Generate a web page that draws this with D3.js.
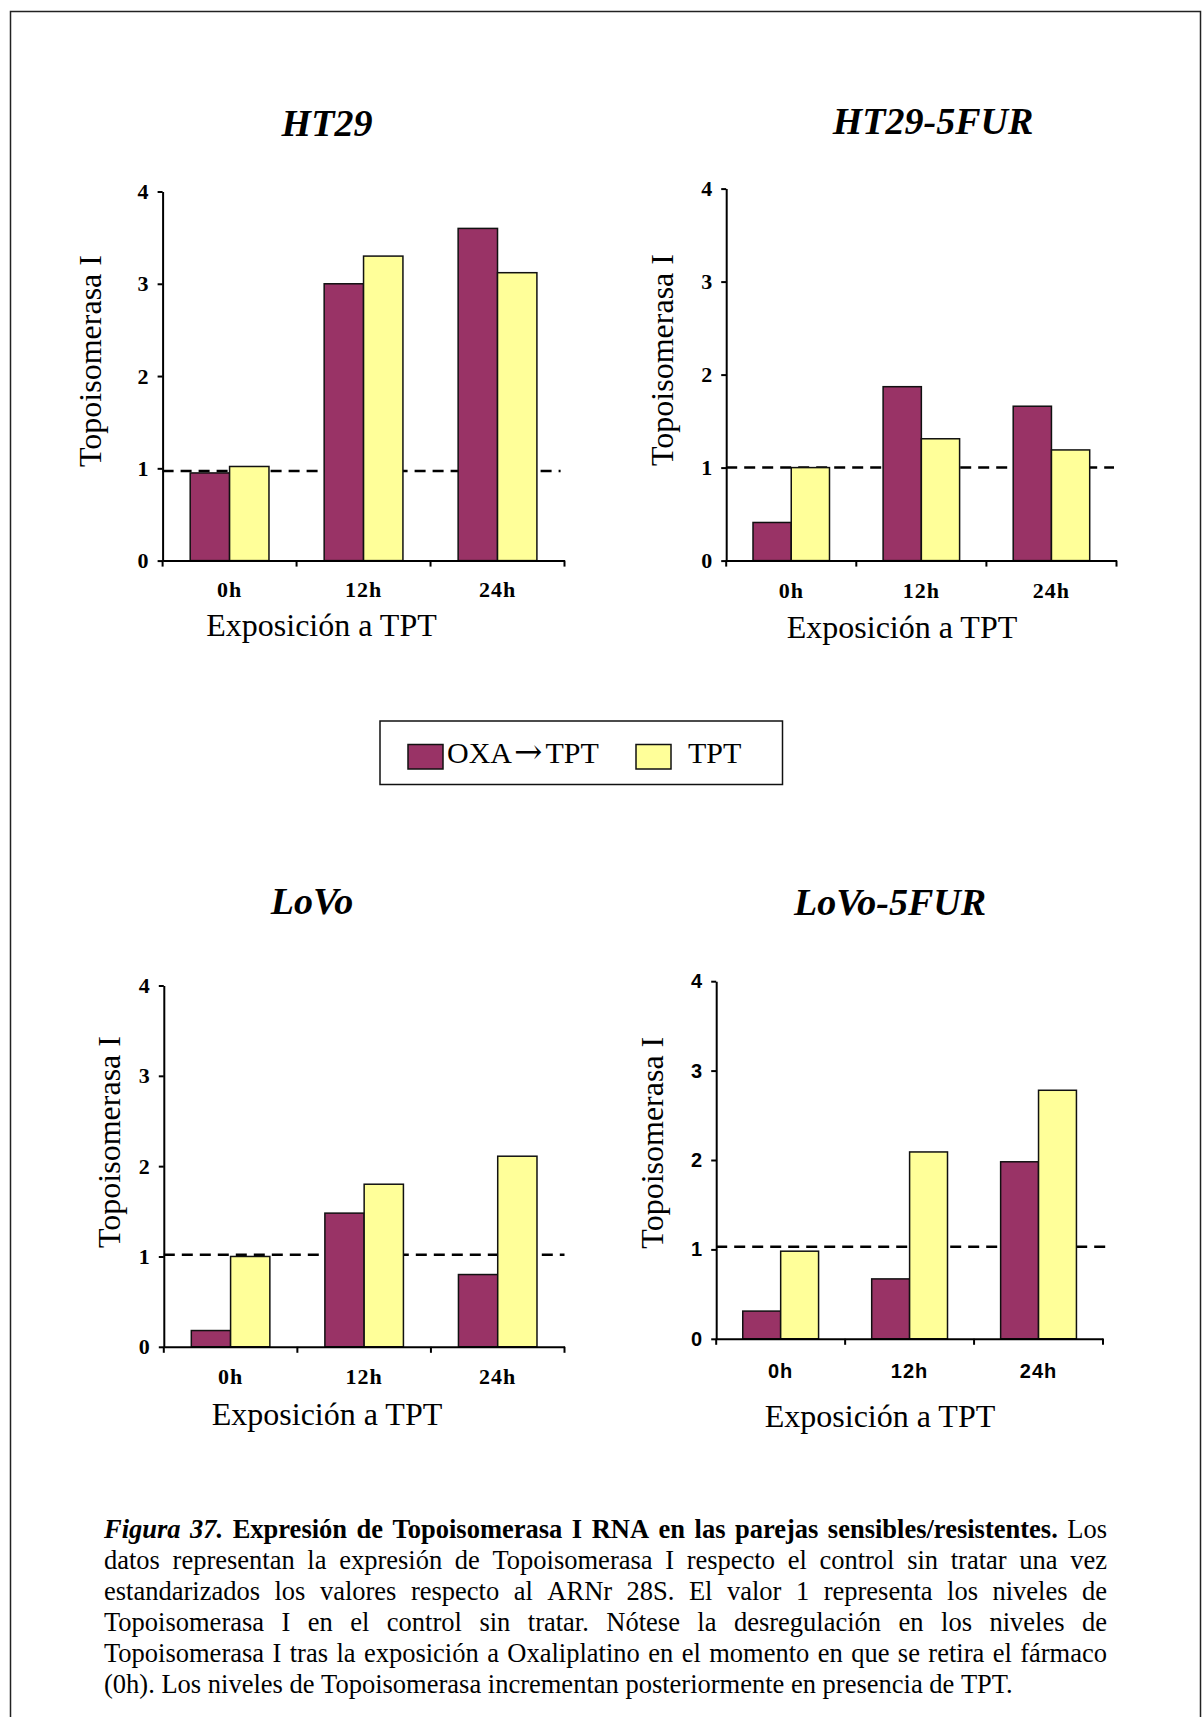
<!DOCTYPE html>
<html>
<head>
<meta charset="utf-8">
<script src="https://cdn.jsdelivr.net/npm/d3@7"></script>
<style>
  body { margin: 0; background: #fff; }
  svg { display: block; }
</style>
</head>
<body>
<div id="figura"></div>
<script>
// categorías y series
const categories = ['0h', '12h', '24h'];
const seriesNames = ['OXA→TPT', 'TPT'];
const yTicks = [0, 1, 2, 3, 4];
const panelTitles = ['HT29', 'HT29-5FUR', 'LoVo', 'LoVo-5FUR'];

// valores (Topoisomerasa I respecto al control)
const ht29Oxa = [0.95, 3.00, 3.60];
const ht29Tpt = [1.02, 3.30, 3.12];
const ht29FurOxa = [0.41, 1.87, 1.66];
const ht29FurTpt = [1.00, 1.31, 1.19];
const lovoOxa = [0.18, 1.48, 0.80];
const lovoTpt = [1.00, 1.80, 2.11];
const lovoFurOxa = [0.31, 0.67, 1.98];
const lovoFurTpt = [0.98, 2.09, 2.78];
// línea discontinua: nivel del control sin tratar
const controlLevels = [0.97, 1.00, 1.02, 1.03];

const colors = { 'OXA→TPT': '#993366', 'TPT': '#FFFF99' };
const SERIF = '"Liberation Serif", "Times New Roman", serif';
const SANS = '"Liberation Sans", Arial, sans-serif';

const W = 1203, H = 1717;
const svg = d3.select('#figura').append('svg')
  .attr('width', W).attr('height', H);

// marco
svg.append('rect')
  .attr('x', 10.5).attr('y', 11.5)
  .attr('width', 1190).attr('height', 1800)
  .attr('fill', 'none').attr('stroke', '#222').attr('stroke-width', 1.5);

// posición de cada panel en la página
const layout = [
  { x0: 162.6, x1: 564.5, y0: 560.6, y4: 191.5, dashEnd: 560.6, titleX: 327, titleY: 136,
    yLabX: 90, yLabY: 361, xTitleX: 321.5, xTitleY: 635.5, xLabY: 36.5, tickFont: SERIF, tickSize: 22 },
  { x0: 726.2, x1: 1116.5, y0: 560.6, y4: 188.6, dashEnd: 1114, titleX: 933, titleY: 134,
    yLabX: 662, yLabY: 360, xTitleX: 902, xTitleY: 637.5, xLabY: 37, tickFont: SERIF, tickSize: 22 },
  { x0: 163.8, x1: 564.5, y0: 1346.8, y4: 985.5, dashEnd: 564.5, titleX: 312, titleY: 913.6,
    yLabX: 109, yLabY: 1142, xTitleX: 327, xTitleY: 1424.5, xLabY: 37.5, tickFont: SERIF, tickSize: 22 },
  { x0: 716.2, x1: 1103, y0: 1338.8, y4: 981.2, dashEnd: 1110, titleX: 890, titleY: 915,
    yLabX: 652, yLabY: 1142.7, xTitleX: 880, xTitleY: 1427.3, xLabY: 39.5, tickFont: SANS, tickSize: 20 }
];
const panelData = [
  [ht29Oxa, ht29Tpt], [ht29FurOxa, ht29FurTpt], [lovoOxa, lovoTpt], [lovoFurOxa, lovoFurTpt]
];

panelTitles.forEach((title, i) => {
  const p = layout[i];
  const [oxa, tpt] = panelData[i];
  const g = svg.append('g');

  const x = d3.scaleBand().domain(categories).range([p.x0, p.x1]).padding(0);
  const bw = x.bandwidth();
  const xs = d3.scaleBand().domain(seriesNames).range([bw * 0.206, bw * 0.794]).padding(0);
  const y = d3.scaleLinear().domain([0, 4]).range([p.y0, p.y4]);

  // título del panel
  g.append('text')
    .attr('x', p.titleX).attr('y', p.titleY)
    .attr('text-anchor', 'middle')
    .style('font-family', SERIF).style('font-size', '38px')
    .style('font-weight', 'bold').style('font-style', 'italic')
    .text(title);

  // línea discontinua del control (detrás de las barras)
  g.append('line')
    .attr('x1', p.x0).attr('x2', p.dashEnd)
    .attr('y1', y(controlLevels[i])).attr('y2', y(controlLevels[i]))
    .attr('stroke', '#000').attr('stroke-width', 2.5)
    .attr('stroke-dasharray', '11,7');

  // barras
  const rows = categories.map((c, k) => ({ cat: c, values: [
    { s: seriesNames[0], v: oxa[k] }, { s: seriesNames[1], v: tpt[k] }
  ] }));
  g.selectAll('.grupo').data(rows).enter().append('g')
    .attr('transform', d => `translate(${x(d.cat)},0)`)
    .selectAll('rect').data(d => d.values).enter().append('rect')
    .attr('x', d => xs(d.s))
    .attr('y', d => y(d.v))
    .attr('width', xs.bandwidth())
    .attr('height', d => y(0) - y(d.v))
    .attr('fill', d => colors[d.s])
    .attr('stroke', '#111').attr('stroke-width', 1.5);

  // eje Y
  const yAxis = g.append('g')
    .attr('transform', `translate(${p.x0},0)`)
    .call(d3.axisLeft(y).tickValues(yTicks).tickFormat(d3.format('d'))
      .tickSize(5).tickSizeOuter(0).tickPadding(9));
  yAxis.select('.domain').attr('stroke', '#000').attr('stroke-width', 2);
  yAxis.selectAll('.tick line').attr('stroke', '#000').attr('stroke-width', 2);
  yAxis.selectAll('text')
    .style('font-family', p.tickFont).style('font-size', p.tickSize + 'px')
    .style('font-weight', 'bold').attr('fill', '#000');

  // eje X: marcas en los límites de cada categoría
  const xAxis = g.append('g')
    .attr('transform', `translate(0,${p.y0})`)
    .call(d3.axisBottom(x).tickSize(0).tickSizeOuter(0));
  xAxis.select('.domain').attr('stroke', '#000').attr('stroke-width', 2);
  xAxis.selectAll('text')
    .attr('y', p.xLabY).attr('dy', null)
    .style('font-family', p.tickFont).style('font-size', p.tickSize + 'px')
    .style('font-weight', 'bold').style('letter-spacing', '1px').attr('fill', '#000');
  const bounds = categories.map(c => x(c)).concat([x.range()[1]]);
  xAxis.selectAll('.limite').data(bounds).enter().append('line')
    .attr('x1', d => d).attr('x2', d => d)
    .attr('y1', 0).attr('y2', 6)
    .attr('stroke', '#000').attr('stroke-width', 2);

  // títulos de ejes
  g.append('text')
    .attr('transform', `translate(${p.yLabX},${p.yLabY}) rotate(-90)`)
    .attr('text-anchor', 'middle').attr('dy', '0.35em')
    .style('font-family', SERIF).style('font-size', '32px')
    .text('Topoisomerasa I');
  g.append('text')
    .attr('x', p.xTitleX).attr('y', p.xTitleY)
    .attr('text-anchor', 'middle')
    .style('font-family', SERIF).style('font-size', '32px')
    .text('Exposición a TPT');
});

// leyenda
const legend = svg.append('g');
legend.append('rect')
  .attr('x', 380).attr('y', 721).attr('width', 402.5).attr('height', 63.5)
  .attr('fill', '#fff').attr('stroke', '#111').attr('stroke-width', 1.5);
const legendPos = [{ sx: 408, tx: 447 }, { sx: 636, tx: 688 }];
seriesNames.forEach((s, k) => {
  legend.append('rect')
    .attr('x', legendPos[k].sx).attr('y', 744.5).attr('width', 35).attr('height', 24.5)
    .attr('fill', colors[s]).attr('stroke', '#111').attr('stroke-width', 1.5);
  const t = legend.append('text')
    .attr('x', legendPos[k].tx).attr('y', 763)
    .style('font-family', SERIF).style('font-size', '30px');
  // la flecha se dibuja más ancha, como en el original
  s.split(/(→)/).forEach((part, j) => {
    const ts = t.append('tspan').text(part);
    if (part === '→') {
      ts.attr('dx', 2).style('font-family', '"DejaVu Serif", serif').style('font-size', '34px');
    } else if (j > 0) {
      ts.attr('dx', 3);
    }
  });
});

// pie de figura (texto justificado)
const captionLines = [
  [['Figura 37.', 'bi'], ['Expresión de Topoisomerasa I RNA en las parejas sensibles/resistentes.', 'b'], ['Los', 'r']],
  [['datos representan la expresión de Topoisomerasa I respecto el control sin tratar una vez', 'r']],
  [['estandarizados los valores respecto al ARNr 28S. El valor 1 representa los niveles de', 'r']],
  [['Topoisomerasa I en el control sin tratar. Nótese la desregulación en los niveles de', 'r']],
  [['Topoisomerasa I tras la exposición a Oxaliplatino en el momento en que se retira el fármaco', 'r']],
  [['(0h). Los niveles de Topoisomerasa incrementan posteriormente en presencia de TPT.', 'r']]
];
const capLeft = 104, capRight = 1107, capTop = 1538, capLead = 31, capSize = 26.5;
const cap = svg.append('g')
  .style('font-family', SERIF).style('font-size', capSize + 'px');
captionLines.forEach((runs, li) => {
  const words = [];
  runs.forEach(([txt, st]) => txt.split(' ').forEach(w => words.push({ w, st })));
  const yy = capTop + li * capLead;
  const nodes = words.map(d => cap.append('text')
    .attr('y', yy)
    .style('font-weight', d.st === 'r' ? 'normal' : 'bold')
    .style('font-style', d.st === 'bi' ? 'italic' : 'normal')
    .text(d.w));
  const widths = nodes.map(n => n.node().getComputedTextLength());
  const total = d3.sum(widths);
  const last = li === captionLines.length - 1;
  const gap = last ? capSize * 0.25 : (capRight - capLeft - total) / (words.length - 1);
  let cx = capLeft;
  nodes.forEach((n, k) => { n.attr('x', cx); cx += widths[k] + gap; });
});
</script>
</body>
</html>
